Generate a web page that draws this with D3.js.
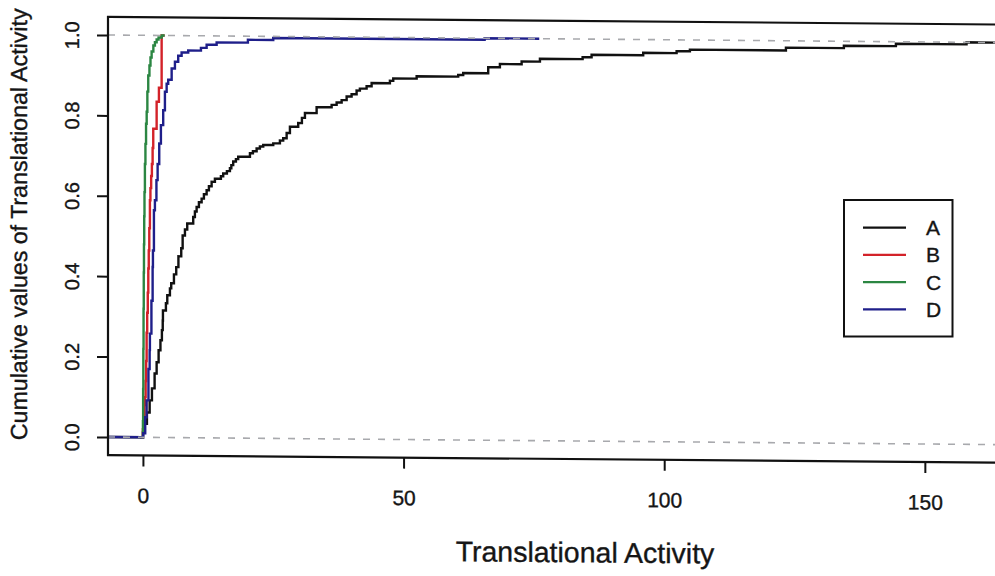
<!DOCTYPE html>
<html><head><meta charset="utf-8">
<script src="https://cdn.jsdelivr.net/npm/d3@7/dist/d3.min.js"></script>
<style>
body{margin:0;background:#fff;}
svg{display:block;font-family:"Liberation Sans",Arial,Helvetica,sans-serif;}
text{fill:#151515;stroke:#151515;stroke-width:0.35px;}
</style></head><body>
<svg id="chart" width="995" height="576"></svg>
<script>
// Empirical cumulative distributions of translational activity, four groups.
// Each series: jump positions (x) and cumulative fraction reached there (y).
const seriesNames = ["A", "B", "C", "D"];
const seriesColors = ["#111111", "#d32229", "#2b8642", "#1f1f8a"];

const aX = [0, 0.33, 0.77, 1.29, 1.73, 2.24, 2.63, 3.01, 3.36, 3.64, 3.80, 3.84, 4.41, 4.67, 5.18,
  5.43, 5.95, 6.39, 6.81, 7.35, 7.62, 8.06, 8.50, 9.65, 9.97, 10.30, 10.74, 11.26, 11.70, 12.22,
  12.66, 13.18, 13.81, 14.96, 15.40, 16.11, 16.69, 16.96, 17.32, 17.84, 18.28, 20.53, 21.10, 21.81,
  22.44, 23.08, 25.0, 26.28, 26.91, 27.57, 28.20, 29.79, 30.50, 31.08, 33.32, 36.20, 37.16, 38.12,
  39.08, 40.03, 40.99, 41.62, 42.91, 43.87, 47.38, 48.02, 52.51, 60.48, 61.44, 66.24, 68.48, 72.65,
  76.16, 84.35, 86.07, 95.97, 102.38, 104.93, 123.35, 134.47, 144.45, 158.0];
const aY = [0.012, 0.034, 0.062, 0.092, 0.122, 0.159, 0.187, 0.217, 0.242, 0.267, 0.291, 0.316, 0.334,
  0.354, 0.371, 0.384, 0.406, 0.424, 0.451, 0.471, 0.503, 0.518, 0.533, 0.549, 0.563, 0.574, 0.586,
  0.595, 0.606, 0.616, 0.626, 0.637, 0.645, 0.651, 0.658, 0.664, 0.671, 0.679, 0.688, 0.694, 0.700,
  0.709, 0.714, 0.721, 0.726, 0.730, 0.734, 0.741, 0.747, 0.760, 0.776, 0.785, 0.798, 0.810, 0.825,
  0.831, 0.837, 0.843, 0.852, 0.858, 0.867, 0.872, 0.878, 0.886, 0.892, 0.898, 0.904, 0.908, 0.913,
  0.928, 0.936, 0.943, 0.950, 0.955, 0.961, 0.967, 0.972, 0.976, 0.983, 0.989, 0.995, 1.0];

const bX = [0.00, 0.15, 0.30, 0.40, 0.52, 0.62, 0.71, 0.82, 0.93, 1.03, 1.12, 1.22, 1.34, 1.44,
  1.58, 1.72, 1.86, 1.98, 2.63, 3.07, 3.59];
const bY = [0.02, 0.05, 0.08, 0.10, 0.14, 0.19, 0.26, 0.31, 0.36, 0.42, 0.465, 0.52, 0.59, 0.62,
  0.65, 0.68, 0.72, 0.768, 0.835, 0.87, 1.0];

const cX = [0.00, 0.04, 0.08, 0.12, 0.16, 0.20, 0.25, 0.30, 0.38, 0.48, 0.60, 0.72, 0.85, 1.02,
  1.25, 1.45, 1.67, 2.00, 2.30, 2.63, 3.00, 3.60];
const cY = [0.04, 0.12, 0.22, 0.32, 0.41, 0.48, 0.55, 0.61, 0.68, 0.73, 0.78, 0.81, 0.86, 0.90,
  0.925, 0.945, 0.96, 0.975, 0.983, 0.99, 0.995, 1.0];

const dX = [0.06, 0.44, 0.71, 1.06, 1.29, 1.34, 1.63, 1.86, 1.92, 2.11, 2.30, 2.59, 2.82, 3.13,
  3.45, 3.89, 4.22, 4.55, 4.85, 5.51, 6.14, 6.77, 7.42, 8.69, 11.13, 12.22, 14.14, 20.14, 25.0, 65.55];
const dY = [0.01, 0.05, 0.092, 0.17, 0.217, 0.258, 0.34, 0.424, 0.465, 0.565, 0.59, 0.64, 0.68,
  0.731, 0.777, 0.814, 0.86, 0.88, 0.89, 0.918, 0.935, 0.95, 0.958, 0.963, 0.970, 0.978, 0.984,
  0.991, 0.996, 1.0];

const xTicks = [0, 50, 100, 150];
const yTicks = [0, 0.2, 0.4, 0.6, 0.8, 1.0];
const xTitle = "Translational Activity";
const yTitle = "Cumulative values of Translational Activity";

const seriesX = [aX, bX, cX, dX];
const seriesY = [aY, bY, cY, dY];

const svg = d3.select("#chart");
const x = d3.scaleLinear().domain([-6.7, 174.7]).range([108, 1053.6]);
const y = d3.scaleLinear().domain([-0.045, 1.045]).range([455.1, 16.9]);
const [x0, x1] = x.range();
const [yb, yt] = y.range();

// the printed page sits with a slight tilt
const g = svg.append("g").attr("transform", "translate(108,0) skewY(0.49) translate(-108,0)");

g.append("clipPath").attr("id", "plotClip")
  .append("rect").attr("x", x0).attr("y", yt).attr("width", x1 - x0).attr("height", yb - yt);

const plot = g.append("g").attr("clip-path", "url(#plotClip)");
const line = d3.line().x(d => x(d[0])).y(d => y(d[1])).curve(d3.curveStepAfter);

seriesNames.forEach((name, i) => {
  const xs = seriesX[i], ys = seriesY[i];
  const lo = d3.min(xs), hi = d3.max(xs);
  const dr = 0.08 * (hi - lo);
  const pts = [[lo - 2 * dr, 0]].concat(xs.map((v, k) => [v, ys[k]]), [[hi + 2 * dr, 1]]);
  plot.append("path").datum(pts)
    .attr("d", line)
    .attr("fill", "none")
    .attr("stroke", seriesColors[i])
    .attr("stroke-width", 2.4)
    .attr("stroke-linejoin", "miter");
});

// reference lines at 0 and 1
[0, 1].forEach(v => {
  plot.append("line")
    .attr("x1", x0).attr("x2", x1)
    .attr("y1", y(v)).attr("y2", y(v))
    .attr("stroke", "#a8a9ad").attr("stroke-width", 1.6)
    .attr("stroke-dasharray", "7,8");
});

// frame
g.append("rect").attr("x", x0).attr("y", yt).attr("width", x1 - x0).attr("height", yb - yt)
  .attr("fill", "none").attr("stroke", "#111").attr("stroke-width", 2.2);

// y axis
const yAxis = g.append("g").attr("transform", `translate(${x0},0)`)
  .call(d3.axisLeft(y).tickValues(yTicks).tickSize(11).tickFormat(d3.format(".1f")));
yAxis.select(".domain").remove();
yAxis.selectAll(".tick line").attr("stroke", "#111").attr("stroke-width", 2);
yAxis.selectAll(".tick text")
  .attr("x", null).attr("dy", "0.36em")
  .attr("text-anchor", "middle")
  .attr("transform", "translate(-36,0) rotate(-90)")
  .attr("font-size", 20)
  .style("font-family", "Liberation Sans, Arial, sans-serif");

// x axis
const xAxis = g.append("g").attr("transform", `translate(0,${yb})`)
  .call(d3.axisBottom(x).tickValues(xTicks).tickSize(11).tickFormat(d3.format("d")));
xAxis.select(".domain").remove();
xAxis.selectAll(".tick line").attr("stroke", "#111").attr("stroke-width", 2);
xAxis.selectAll(".tick text")
  .attr("y", 40).attr("dy", "0.36em")
  .attr("font-size", 21)
  .style("font-family", "Liberation Sans, Arial, sans-serif");

// axis titles
g.append("text")
  .attr("x", 585).attr("y", 548).attr("dy", "0.36em")
  .attr("text-anchor", "middle").attr("font-size", 28.5)
  .text(xTitle);
g.append("text")
  .attr("transform", "translate(19,225) rotate(-90)")
  .attr("dy", "0.36em")
  .attr("text-anchor", "middle").attr("font-size", 23.2)
  .text(yTitle);

// legend
const legend = svg.append("g");
legend.append("rect").attr("x", 844).attr("y", 200).attr("width", 108.5).attr("height", 136.5)
  .attr("fill", "#fff").attr("stroke", "#111").attr("stroke-width", 2);
const legendY = d3.scalePoint().domain(seriesNames).range([227.7, 309.3]);
seriesNames.forEach((name, i) => {
  legend.append("line")
    .attr("x1", 863).attr("x2", 906)
    .attr("y1", legendY(name)).attr("y2", legendY(name))
    .attr("stroke", seriesColors[i]).attr("stroke-width", 2.2);
  legend.append("text")
    .attr("x", 926).attr("y", legendY(name)).attr("dy", "0.36em")
    .attr("font-size", 21)
    .text(name);
});
</script>
</body></html>
